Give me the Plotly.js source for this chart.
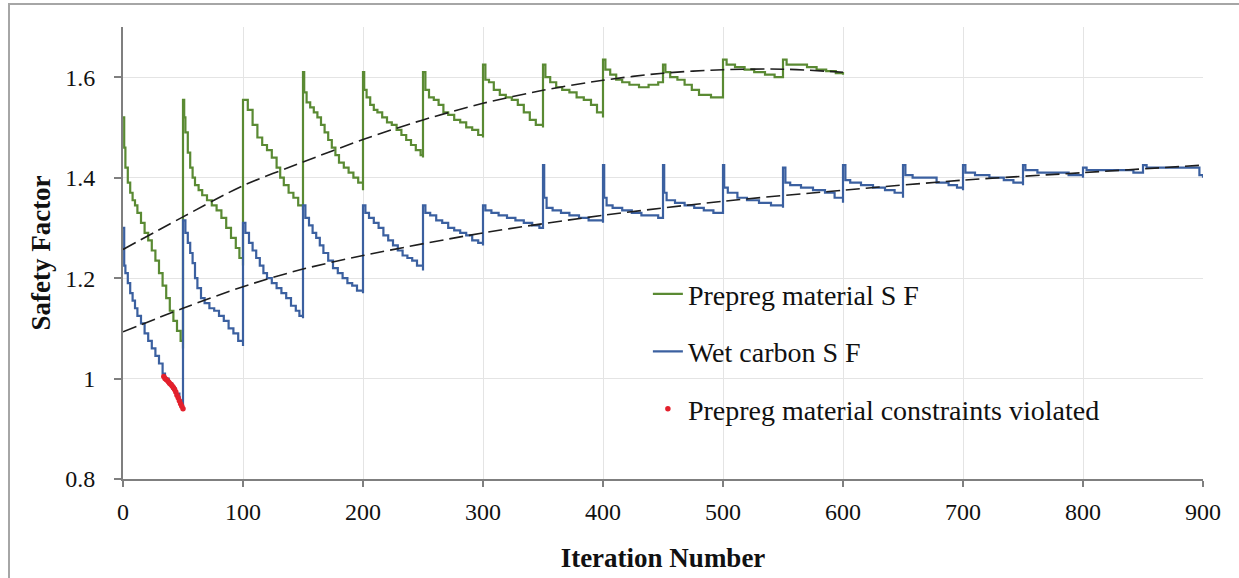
<!DOCTYPE html>
<html>
<head>
<meta charset="utf-8">
<script src="https://cdn.plot.ly/plotly-3.0.1.min.js"></script>
<style>
  html, body { margin: 0; padding: 0; background: #ffffff; }
  #wrap { position: relative; width: 1239px; height: 578px; overflow: hidden; }
  #chart { width: 1239px; height: 578px; }
  #frame { position: absolute; left: 8px; top: 3px; right: -4px; bottom: -4px;
           border-left: 2px solid #a6a6a6; border-top: 2px solid #a6a6a6; pointer-events: none; }
</style>
</head>
<body>
<div id="wrap">
  <div id="chart"></div>
  <div id="frame"></div>
</div>
<script>
// ---- Data ----
// Prepreg material safety factor (green), restarts every 50 iterations
const prepregX = [
  0,1,2,4,6,8,10,12,15,18,21,24,27,30,33,36,39,42,45,48,50,
  50,51,52,54,56,58,60,63,66,70,74,78,82,86,90,94,97,100,
  100,104,108,112,116,120,124,128,131,134,138,142,146,150,
  150,151,153,156,159,162,165,168,171,174,177,180,184,188,192,196,200,
  200,201,203,206,209,212,216,220,224,228,232,236,240,244,248,250,
  250,252,255,259,263,267,271,276,281,286,291,296,300,
  300,302,305,309,314,319,324,329,334,339,344,350,
  350,352,356,361,366,372,378,384,390,395,400,
  400,402,406,411,416,422,430,438,446,450,
  450,452,456,462,468,474,480,490,500,
  500,503,510,518,526,535,543,550,
  550,553,560,570,578,586,594,600
];
const prepregY = [
  1.52,1.46,1.42,1.39,1.37,1.355,1.345,1.33,1.31,1.29,1.275,1.255,1.235,1.21,1.185,1.16,1.135,1.115,1.095,1.075,1.06,
  1.555,1.52,1.49,1.45,1.42,1.40,1.385,1.375,1.365,1.355,1.345,1.335,1.32,1.30,1.28,1.26,1.24,1.225,
  1.555,1.535,1.505,1.48,1.465,1.455,1.44,1.42,1.40,1.385,1.37,1.36,1.345,1.335,
  1.61,1.57,1.55,1.54,1.53,1.52,1.505,1.49,1.475,1.46,1.445,1.43,1.42,1.41,1.40,1.39,1.375,
  1.61,1.575,1.56,1.545,1.535,1.53,1.52,1.51,1.505,1.495,1.485,1.475,1.465,1.455,1.445,1.44,
  1.61,1.575,1.56,1.555,1.545,1.53,1.525,1.515,1.51,1.50,1.495,1.485,1.48,
  1.625,1.595,1.59,1.575,1.565,1.56,1.555,1.545,1.53,1.515,1.505,1.50,
  1.625,1.60,1.59,1.58,1.575,1.57,1.56,1.555,1.545,1.53,1.52,
  1.635,1.615,1.605,1.595,1.59,1.585,1.58,1.585,1.59,1.59,
  1.625,1.61,1.60,1.595,1.585,1.575,1.565,1.56,1.56,
  1.635,1.625,1.62,1.615,1.61,1.605,1.60,1.60,
  1.635,1.625,1.625,1.62,1.615,1.612,1.608,1.605
];

// Wet carbon safety factor (blue), restarts every 50 iterations
const wetX = [
  0,1,2,4,6,8,10,12,15,18,21,24,27,30,33,35,38,41,44,47,50,
  50,52,54,56,58,60,62,65,68,72,76,80,84,88,92,96,100,
  100,102,105,108,111,114,117,120,124,128,132,136,140,144,147,150,
  150,152,155,158,161,164,167,171,175,179,183,187,191,195,200,
  200,202,205,209,213,217,221,225,229,233,237,241,245,250,
  250,252,256,261,266,271,276,281,286,291,296,300,
  300,302,307,313,320,327,334,341,347,350,
  350,351,353,358,365,372,380,388,395,400,
  400,401,403,408,416,424,432,440,446,450,
  450,451,453,460,468,476,484,492,500,
  500,501,504,512,520,530,540,550,
  550,552,556,565,575,585,593,600,
  600,602,606,615,625,635,643,650,
  650,652,658,668,678,688,695,700,
  700,702,710,722,734,742,750,
  750,752,762,775,788,800,
  800,803,815,830,842,850,
  850,853,865,880,893,897,900
];
const wetY = [
  1.30,1.225,1.21,1.19,1.17,1.155,1.14,1.125,1.11,1.09,1.075,1.06,1.045,1.03,1.01,1.00,0.99,0.98,0.97,0.955,0.94,
  1.315,1.29,1.27,1.25,1.23,1.20,1.18,1.16,1.15,1.14,1.135,1.125,1.115,1.10,1.09,1.075,1.065,
  1.31,1.29,1.27,1.255,1.24,1.225,1.21,1.20,1.19,1.18,1.17,1.16,1.145,1.135,1.125,1.12,
  1.345,1.32,1.305,1.29,1.28,1.265,1.25,1.235,1.22,1.21,1.20,1.19,1.185,1.175,1.17,
  1.345,1.33,1.32,1.31,1.30,1.285,1.275,1.265,1.255,1.245,1.24,1.235,1.225,1.215,
  1.345,1.33,1.325,1.315,1.31,1.30,1.295,1.29,1.285,1.275,1.27,1.265,
  1.345,1.335,1.33,1.325,1.32,1.315,1.31,1.305,1.30,1.30,
  1.425,1.36,1.34,1.335,1.33,1.325,1.32,1.315,1.315,1.31,
  1.425,1.36,1.345,1.34,1.335,1.33,1.325,1.325,1.32,1.32,
  1.425,1.37,1.355,1.35,1.345,1.34,1.335,1.33,1.33,
  1.425,1.38,1.37,1.36,1.355,1.35,1.345,1.34,
  1.42,1.39,1.385,1.38,1.375,1.37,1.36,1.35,
  1.425,1.395,1.39,1.385,1.38,1.375,1.37,1.36,
  1.425,1.405,1.40,1.40,1.39,1.385,1.38,1.375,
  1.425,1.41,1.405,1.40,1.395,1.39,1.385,
  1.425,1.415,1.41,1.41,1.405,1.40,
  1.42,1.415,1.415,1.415,1.41,1.41,
  1.425,1.42,1.42,1.42,1.42,1.405,1.40
];

// Points where prepreg material constraints are violated (red)
const violX = [34,35,36,37,38,39,40,41,42,43,44,45,46,47,48,49,50];
const violY = [1.004,1.0,0.998,0.996,0.993,0.99,0.988,0.985,0.982,0.978,0.973,0.967,0.962,0.956,0.95,0.945,0.94];

// Dashed trend lines
const prepregTrendX = [0,50,100,150,200,250,300,350,400,450,500,550,600];
const prepregTrendY = [1.257,1.322,1.384,1.431,1.476,1.515,1.548,1.574,1.594,1.608,1.615,1.616,1.61];
const wetTrendX = [0,50,100,150,200,300,400,500,600,700,800,900];
const wetTrendY = [1.093,1.14,1.183,1.218,1.245,1.29,1.325,1.353,1.375,1.395,1.41,1.425];

// Axis ticks
const xTickVals = [0,100,200,300,400,500,600,700,800,900];
const yTickVals = [0.8,1.0,1.2,1.4,1.6];
const yTickText = ['0.8','1','1.2','1.4','1.6'];

const seriesNames = ['Prepreg material S F', 'Wet carbon S F', 'Prepreg material constraints violated'];

// ---- Chart ----
const FONT = 'Liberation Serif';
const green = '#5a8a33';
const blue = '#3b60a0';

const traces = [
  { x: prepregX, y: prepregY, type: 'scatter', mode: 'lines', name: seriesNames[0],
    line: { color: green, width: 2.2, shape: 'hv' }, legendgroup: 'g1' },
  { x: wetX, y: wetY, type: 'scatter', mode: 'lines', name: seriesNames[1],
    line: { color: blue, width: 2.2, shape: 'hv' }, legendgroup: 'g2' },
  { x: prepregTrendX, y: prepregTrendY, type: 'scatter', mode: 'lines', showlegend: false,
    line: { color: '#1e1e1e', width: 1.6, dash: '14px,6px', shape: 'spline', smoothing: 0.8 } },
  { x: wetTrendX, y: wetTrendY, type: 'scatter', mode: 'lines', showlegend: false,
    line: { color: '#1e1e1e', width: 1.6, dash: '14px,6px', shape: 'spline', smoothing: 0.8 } },
  { x: violX, y: violY, type: 'scatter', mode: 'markers', name: seriesNames[2],
    marker: { color: '#e3202c', size: 5.5 }, legendgroup: 'g3' }
];

const layout = {
  width: 1239, height: 578,
  margin: { l: 122.5, r: 36, t: 27, b: 98.5 },
  paper_bgcolor: '#ffffff', plot_bgcolor: '#ffffff',
  font: { family: FONT, color: '#111111' },
  showlegend: true,
  legend: {
    x: 0.486, xanchor: 'left', y: 0.464, yanchor: 'top',
    bgcolor: 'rgba(0,0,0,0)', borderwidth: 0,
    font: { family: FONT, size: 28, color: '#111111' },
    traceorder: 'grouped', tracegroupgap: 18, itemwidth: 30
  },
  xaxis: {
    range: [0, 900], tickvals: xTickVals, ticktext: xTickVals.map(String),
    showgrid: true, gridcolor: '#e4e4e4', gridwidth: 1,
    showline: true, linecolor: '#7f7f7f', linewidth: 2,
    ticks: 'outside', ticklen: 6, tickwidth: 2, tickcolor: '#7f7f7f',
    ticklabelstandoff: 4,
    tickfont: { family: FONT, size: 24, color: '#111111' },
    zeroline: false,
    title: { text: 'Iteration Number', standoff: 24,
             font: { family: FONT, size: 27, color: '#111111', weight: 'bold' } }
  },
  yaxis: {
    range: [0.8, 1.7], tickvals: yTickVals, ticktext: yTickText,
    showgrid: true, gridcolor: '#e4e4e4', gridwidth: 1,
    showline: true, linecolor: '#7f7f7f', linewidth: 2,
    ticks: 'outside', ticklen: 7, tickwidth: 2, tickcolor: '#7f7f7f',
    ticklabelstandoff: 14,
    tickfont: { family: FONT, size: 24, color: '#111111' },
    zeroline: false,
    title: { text: 'Safety Factor', standoff: 7,
             font: { family: FONT, size: 27, color: '#111111', weight: 'bold' } }
  }
};

Plotly.newPlot('chart', traces, layout, { displayModeBar: false, staticPlot: true });
</script>
</body>
</html>
